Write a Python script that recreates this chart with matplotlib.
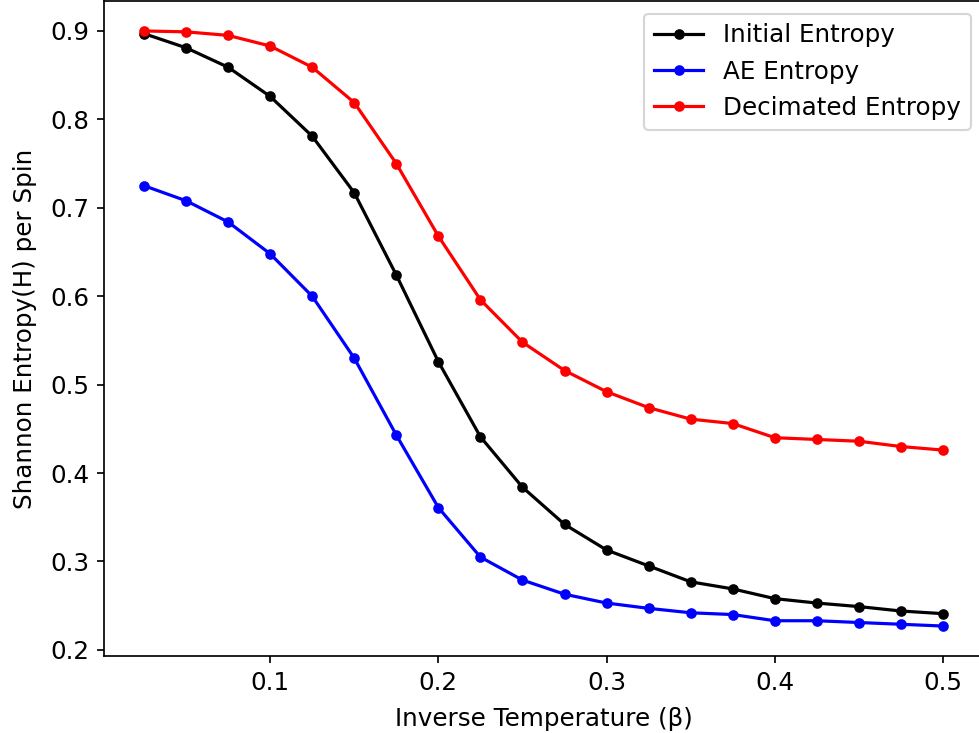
import numpy as np
import matplotlib
matplotlib.use("Agg")
import matplotlib.pyplot as plt

beta = [0.025, 0.05, 0.075, 0.1, 0.125, 0.15, 0.175, 0.2, 0.225, 0.25,
        0.275, 0.3, 0.325, 0.35, 0.375, 0.4, 0.425, 0.45, 0.475, 0.5]

initial_entropy = [0.897, 0.881, 0.859, 0.826, 0.781, 0.717, 0.624, 0.526, 0.441, 0.384,
                   0.342, 0.313, 0.295, 0.277, 0.269, 0.258, 0.253, 0.249, 0.244, 0.241]
ae_entropy = [0.725, 0.708, 0.684, 0.648, 0.600, 0.530, 0.443, 0.361, 0.305, 0.279,
              0.263, 0.253, 0.247, 0.242, 0.240, 0.233, 0.233, 0.231, 0.229, 0.227]
decimated_entropy = [0.900, 0.899, 0.895, 0.883, 0.859, 0.819, 0.750, 0.668, 0.596, 0.548,
                     0.516, 0.492, 0.474, 0.461, 0.456, 0.440, 0.438, 0.436, 0.430, 0.426]

plt.rcParams["font.size"] = 11.6

DPI = 153
fig = plt.figure(figsize=(979 / DPI, 733 / DPI), dpi=DPI)
ax = fig.add_axes([104 / 979, 1 - 655.8 / 733, 879 / 979, 654.6 / 733])

ax.plot(beta, initial_entropy, color="black", marker="o", markersize=4, label="Initial Entropy")
ax.plot(beta, ae_entropy, color="blue", marker="o", markersize=4, label="AE Entropy")
ax.plot(beta, decimated_entropy, color="red", marker="o", markersize=4, label="Decimated Entropy")

ax.set_xlabel("Inverse Temperature (β)", labelpad=6)
ax.set_ylabel("Shannon Entropy(H) per Spin", labelpad=6)
ax.legend(loc="upper right")

fig.savefig("out.png", dpi=DPI)
